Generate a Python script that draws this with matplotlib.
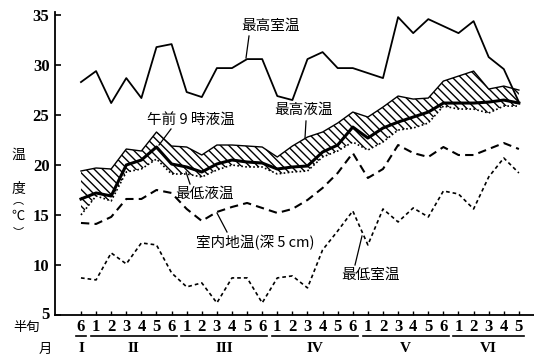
import numpy as np
import matplotlib.pyplot as plt
from matplotlib import transforms

plt.rcParams['font.family'] = ['Noto Sans CJK JP', 'DejaVu Sans']
plt.rcParams['hatch.linewidth'] = 1.0

# 半旬ごとの値 (I-6 から VI-5 まで 30 点)
half_month_labels = ['6',
                     '1', '2', '3', '4', '5', '6',
                     '1', '2', '3', '4', '5', '6',
                     '1', '2', '3', '4', '5', '6',
                     '1', '2', '3', '4', '5', '6',
                     '1', '2', '3', '4', '5']
months = ['I', 'II', 'III', 'IV', 'V', 'VI']
month_counts = [1, 6, 6, 6, 6, 5]

max_room = [28.3, 29.4, 26.2, 28.7, 26.7, 31.8, 32.1, 27.3, 26.8, 29.7,
            29.7, 30.6, 30.6, 26.9, 26.5, 30.6, 31.3, 29.7, 29.7, 29.2,
            28.7, 34.8, 33.2, 34.6, 33.9, 33.2, 34.4, 30.8, 29.6, 26.3]
max_liquid = [19.4, 19.7, 19.6, 21.6, 21.4, 23.3, 21.9, 21.8, 21.0, 22.0,
              22.0, 21.9, 21.8, 20.8, 21.9, 22.8, 23.3, 24.2, 25.3, 24.8,
              25.8, 26.9, 26.6, 26.7, 28.4, 28.9, 29.4, 27.6, 27.9, 27.5]
liquid_9am = [16.6, 17.2, 16.9, 20.0, 20.5, 21.8, 20.1, 19.8, 19.3, 20.1,
              20.5, 20.3, 20.2, 19.6, 19.8, 19.9, 21.3, 22.0, 23.8, 22.7,
              23.7, 24.3, 24.8, 25.3, 26.2, 26.2, 26.2, 26.3, 26.5, 26.2]
min_liquid = [15.0, 16.9, 16.4, 19.3, 19.6, 20.6, 19.1, 19.1, 18.8, 19.5,
              20.0, 19.8, 19.8, 19.1, 19.3, 19.4, 20.8, 21.4, 22.3, 21.5,
              22.3, 23.5, 23.7, 24.2, 25.9, 25.6, 25.6, 25.2, 25.9, 25.9]
soil_5cm = [14.2, 14.1, 14.8, 16.6, 16.6, 17.5, 17.2, 15.6, 14.4, 15.3,
            15.8, 16.2, 15.7, 15.2, 15.6, 16.5, 17.7, 19.2, 21.2, 18.7,
            19.6, 22.0, 21.2, 20.8, 21.8, 21.0, 21.0, 21.6, 22.2, 21.6]
min_room = [8.7, 8.5, 11.2, 10.1, 12.2, 12.0, 9.2, 7.8, 8.2, 6.2,
            8.7, 8.7, 6.2, 8.7, 8.9, 7.7, 11.5, 13.4, 15.4, 12.0,
            15.6, 14.3, 15.7, 14.8, 17.4, 17.1, 15.6, 18.8, 20.7, 19.2]

x = np.arange(len(half_month_labels))

fig = plt.figure(figsize=(5.34, 3.57), dpi=100)
ax = fig.add_axes([0.103, 0.118, 0.897, 0.848])

# 液温の幅 (斜線)
ax.fill_between(x, min_liquid, max_liquid, facecolor='none', edgecolor='black',
                hatch='\\\\\\\\', linewidth=0)
ax.plot(x, max_room, color='black', lw=1.3)
ax.plot(x, max_liquid, color='black', lw=1.0)
ax.plot(x, liquid_9am, color='black', lw=2.2)
ax.plot(x, min_liquid, color='black', lw=1.2, linestyle=(0, (1, 1.4)))
ax.plot(x, soil_5cm, color='black', lw=1.5, linestyle=(0, (4, 2.5)))
ax.plot(x, min_room, color='black', lw=1.2, linestyle=(0, (2.2, 1.8)))

ax.set_xlim(-1.72, 30.0)
ax.set_ylim(5, 35.3)
ax.spines['top'].set_visible(False)
ax.spines['right'].set_visible(False)
ax.spines['left'].set_linewidth(1.3)
ax.spines['bottom'].set_linewidth(1.3)

num_font = dict(family='Liberation Serif', weight='bold')
ax.set_yticks([5, 10, 15, 20, 25, 30, 35])
ax.set_yticklabels(['5', '10', '15', '20', '25', '30', '35'], fontsize=12, **num_font)
ax.set_xticks(x)
ax.set_xticklabels(half_month_labels, fontsize=12, **num_font)
ax.tick_params(axis='y', direction='in', length=4, width=1.2, pad=4)
ax.tick_params(axis='x', direction='in', length=3, width=1.0, pad=3)
# 一番下の目盛 5 は少し上に寄っている
ax.get_yticklabels()[0].set_y(5.4)
ax.get_yticklabels()[0].set_va('center')

# 月の下線と記号
trans = transforms.blended_transform_factory(ax.transData, ax.transAxes)
start = 0
for m, n in zip(months, month_counts):
    end = start + n - 1
    ax.plot([start - 0.35, end + 0.35], [-0.069, -0.069], color='black', lw=1.2,
            transform=trans, clip_on=False)
    ax.text((start + end) / 2, -0.112, m, transform=trans, ha='center', va='center',
            fontsize=11, **num_font)
    start = end + 1

fig.text(27 / 534, 1 - 327 / 357, '半旬', ha='center', va='center', fontsize=9.5)
fig.text(45 / 534, 1 - 349 / 357, '月', ha='center', va='center', fontsize=9.5)

# 縦軸の見出し
for ch, yy, fs in [('温', 155, 10), ('度', 189, 10), ('︵', 200, 8),
                   ('℃', 216, 9.5), ('︶', 232, 8)]:
    fig.text(18 / 534, 1 - yy / 357, ch, ha='center', va='center', fontsize=fs)

# 注記
def note(text, tx, ty, x0, y0, x1, y1):
    # 位置はピクセル座標 (左上原点)
    fig.text(tx / 534, 1 - ty / 357, text, ha='center', va='center', fontsize=10.5)
    fig.add_artist(plt.Line2D([x0 / 534, x1 / 534], [1 - y0 / 357, 1 - y1 / 357],
                              color='black', lw=0.9))

note('最高室温', 270, 26, 249, 36, 246, 58)
note('午前 9 時液温', 191, 120, 171, 129, 159, 145)
note('最高液温', 303, 110, 306, 121, 305, 138)
note('最低液温', 205, 194, 190, 184, 186, 172)
note('室内地温(深 5 cm)', 255, 243, 227, 232, 217, 213)
note('最低室温', 371, 275, 355, 265, 362, 236)

plt.savefig('out.png', dpi=100)
